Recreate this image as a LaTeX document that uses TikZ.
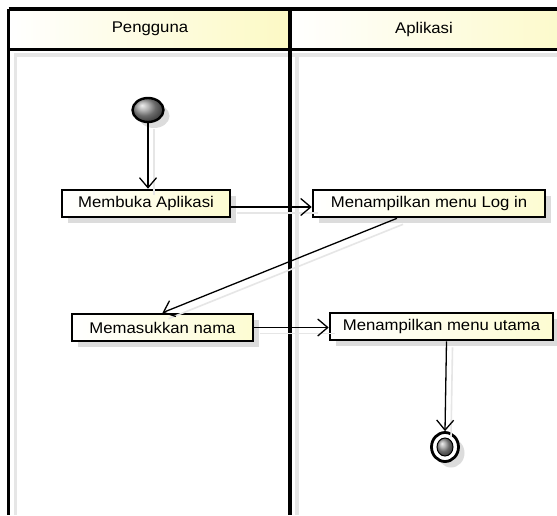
\documentclass[tikz,border=0pt]{standalone}
\usepackage{fontspec}
\setmainfont[FakeStretch=1.08]{Liberation Sans}
\usetikzlibrary{arrows.meta,shapes.geometric,shadows}
\definecolor{paleyel}{HTML}{FCF9C4}
\definecolor{boxyel}{HTML}{FDFCD2}
\definecolor{shadowgray}{HTML}{DCDCDC}
\definecolor{lineshadow}{HTML}{E6E6E6}
\tikzset{
  lane/.style={line width=3.3pt, black},
  laneshadow/.style={line width=3.5pt, lineshadow},
  actbox/.style={draw=black, line width=2.6pt, rectangle, minimum height=27pt, inner sep=0pt,
    left color=white, right color=boxyel,
    general shadow={fill=shadowgray, shadow xshift=6pt, shadow yshift=-6pt},
    font=\fontsize{15.5}{18}\selectfont},
  conn/.style={draw=black, line width=1.3pt, -{Straight Barb[length=10pt,width=17pt,line width=1.3pt]},
    preaction={draw=lineshadow, line width=1.6pt, -, transform canvas={shift={(6pt,-6pt)}}}},
  headtxt/.style={font=\fontsize{15.5}{18}\selectfont},
}
\begin{document}
\begin{tikzpicture}[x=1pt,y=-1pt]
\clip (0,0) rectangle (557,515);
\fill[white] (0,0) rectangle (557,515);
% header fills
\shade[left color=white, right color=paleyel] (9,9) rectangle (290,49.5);
\shade[left color=white, right color=paleyel] (290,9) rectangle (600,49.5);
% lane shadows
\draw[laneshadow] (15.5,53) -- (15.5,515);
\draw[laneshadow] (297,53) -- (297,515);
\draw[laneshadow] (15.5,55) -- (557,55);
% lane lines
\draw[lane] (8.5,9) -- (8.5,515);
\draw[lane] (290,9) -- (290,515);
\draw[lane] (8.5,9) -- (557,9);
\draw[lane] (8.5,49.5) -- (557,49.5);
% headers
\node[headtxt] (h1) at (150,29) {Pengguna};
\node[headtxt] (h2) at (424,29) {Aplikasi};
% start node
\fill[shadowgray] (154,116) ellipse (15.5 and 12);
\node[ellipse, draw=black, line width=2.4pt, minimum width=31pt, minimum height=24pt, inner sep=0pt,
  shading=ball, ball color=gray!80] (start) at (148,110) {};
% activities
\node[actbox, minimum width=168pt] (membuka) at (146,203.5) {Membuka Aplikasi};
\node[actbox, minimum width=232pt] (login) at (429,203.5) {Menampilkan menu Log in};
\node[actbox, minimum width=181pt] (masuk) at (162.5,327.5) {Memasukkan nama};
\node[actbox, minimum width=223pt] (utama) at (441.5,326.5) {Menampilkan menu utama};
% end node
\fill[shadowgray] (451,453) ellipse (13.5 and 14.5);
\node[ellipse, draw=black, line width=2.8pt, fill=white, minimum width=27pt, minimum height=29pt, inner sep=0pt] (end) at (445,447) {};
\fill[shading=ball, ball color=gray!80, draw=black, line width=1pt] (end.center) ellipse (8 and 9);
% connectors
\coordinate (ya) at (0,207);
\draw[conn] (start.south) -- (start.south |- membuka.north);
\draw[conn] (membuka.east |- ya) -- (login.west |- ya);
\draw[conn] ([xshift=-32pt]login.south) -- (masuk.north);
\draw[conn] (masuk.east) -- (masuk.east -| utama.west);
\draw[conn] ([xshift=5pt]utama.south) -- (end.north);
\end{tikzpicture}
\end{document}
